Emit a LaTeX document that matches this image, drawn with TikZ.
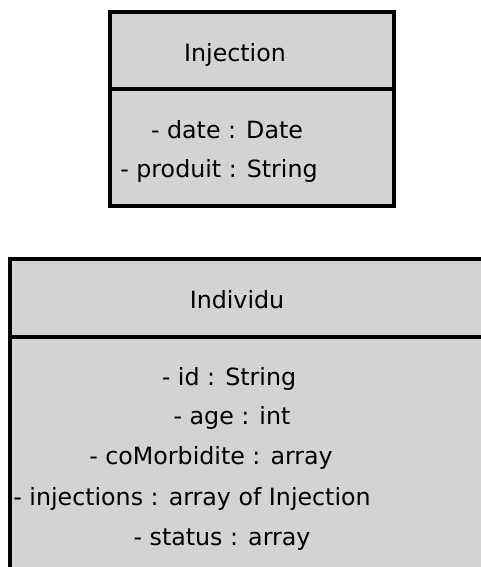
\documentclass[tikz,border=0pt]{standalone}
\usepackage{fontspec}
\setmainfont{DejaVu Sans}
\definecolor{classgray}{RGB}{211,211,211}
\tikzset{
  classbox/.style={fill=classgray,draw=black,line width=2.3pt},
  classsep/.style={draw=black,line width=2.3pt},
  classtxt/.style={font=\fontsize{17.8}{20}\selectfont,inner sep=0pt,anchor=base},
}
\begin{document}
\begin{tikzpicture}[x=0.75pt,y=-0.75pt]
  \clip (0,0) rectangle (481,567);
  % class Injection
  \draw[classbox] (110,12) rectangle (394,206);
  \coordinate (injL) at (110,89);
  \coordinate (injR) at (394,89);
  \draw[classsep] (injL) -- (injR);
  \node[classtxt] (injname) at (235,62) {Injection};
  \foreach \cx/\by/\t [count=\n] in {227/138/- date : Date, 219/177/- produit : String} {
    \node[classtxt] (injatt\n) at (\cx,\by) {\t};
  }
  % class Individu (runs off the page)
  \draw[classbox] (10,259) rectangle (520,620);
  \coordinate (indL) at (10,337);
  \coordinate (indR) at (520,337);
  \draw[classsep] (indL) -- (indR);
  \node[classtxt] (indname) at (237,308) {Individu};
  \foreach \cx/\by/\t [count=\n] in {229/385/- id : String, 232/424/- age : int,
      211/464/- coMorbidite : array, 192/505/- injections : array of Injection,
      222/545/- status : array} {
    \node[classtxt] (indatt\n) at (\cx,\by) {\t};
  }
\end{tikzpicture}
\end{document}
